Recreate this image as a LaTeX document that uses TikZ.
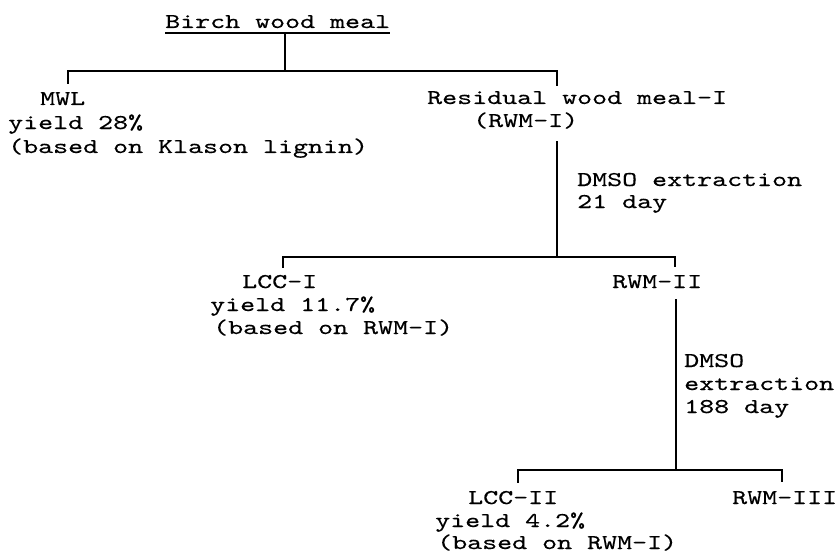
\documentclass[tikz,border=0pt]{standalone}
\usepackage{fontspec}
\newfontfamily\tw{lmmono10-regular}[Extension=.otf, FakeStretch=1.36, FakeBold=0.35]
\begin{document}
\begin{tikzpicture}[x=1pt,y=-1pt,
  lbl/.style={anchor=base west, inner sep=0pt, font=\tw\fontsize{21}{23}\selectfont},
  tree/.style={line width=1.5pt, line cap=rect},
  uline/.style={line width=1.2pt}]
\useasboundingbox (0,0) rectangle (840,559);
% texts
\node[lbl] (birch) at (165,28) {Birch wood meal};
\node[lbl] (mwl) at (40,105) {MWL};
\node[lbl] (mwly) at (8,129) {yield 28\%};
\node[lbl] (mwlb) at (8,153) {(based on Klason lignin)};
\node[lbl] (rwm) at (427,104) {Residual wood meal-I};
\node[lbl] (rwma) at (473,127) {(RWM-I)};
\node[lbl] (ex1) at (577,186) {DMSO extraction};
\node[lbl] (ex1b) at (577,208) {21 day};
\node[lbl] (lcc) at (242,288) {LCC-I};
\node[lbl] (lccy) at (210,311) {yield 11.7\%};
\node[lbl] (lccb) at (213,334) {(based on RWM-I)};
\node[lbl] (rwm2) at (612,288) {RWM-II};
\node[lbl] (ex2) at (684,367) {DMSO};
\node[lbl] (ex2b) at (684,390) {extraction};
\node[lbl] (ex2c) at (684,413) {188 day};
\node[lbl] (lcc2) at (468,504) {LCC-II};
\node[lbl] (lcc2y) at (435,527) {yield 4.2\%};
\node[lbl] (lcc2b) at (437,549) {(based on RWM-I)};
\node[lbl] (rwm3) at (732,504) {RWM-III};
% underline
\draw[uline] ([yshift=-5pt]birch.base west) -- ([yshift=-5pt]birch.base east);
% junction coordinates
\coordinate (t0) at (285,33);
\coordinate (t1) at (285,71);
\coordinate (a1) at (68,83);
\coordinate (a2) at (68,71);
\coordinate (a3) at (557,71);
\coordinate (a4) at (557,85);
\coordinate (b0) at (557,142);
\coordinate (b1) at (557,257);
\coordinate (c1) at (283,267);
\coordinate (c2) at (283,257);
\coordinate (c3) at (675,257);
\coordinate (c4) at (675,266);
\coordinate (d0) at (676,300);
\coordinate (d1) at (676,470);
\coordinate (e1) at (518,482);
\coordinate (e2) at (518,470);
\coordinate (e3) at (782,470);
\coordinate (e4) at (782,481);
% connectors
\draw[tree] (t0) -- (t1);
\draw[tree] (a1) -- (a2) -- (a3) -- (a4);
\draw[tree] (b0) -- (b1);
\draw[tree] (c1) -- (c2) -- (c3) -- (c4);
\draw[tree] (d0) -- (d1);
\draw[tree] (e1) -- (e2) -- (e3) -- (e4);
\end{tikzpicture}
\end{document}
